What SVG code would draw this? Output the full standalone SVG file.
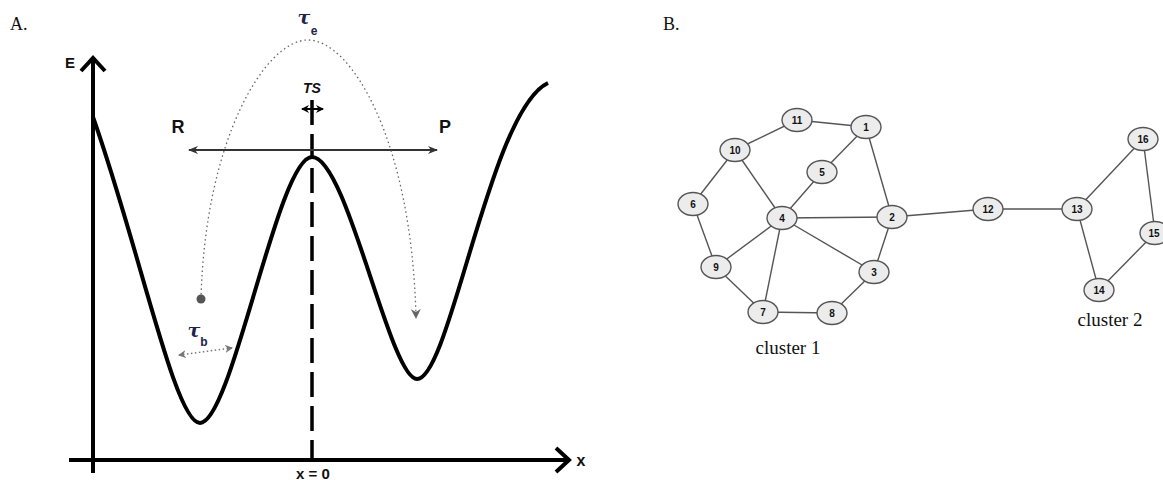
<svg xmlns="http://www.w3.org/2000/svg" width="1163" height="480" viewBox="0 0 1163 480">
<style>
.serif{font-family:"Liberation Serif","Times New Roman",serif;fill:#111}
.lbl{font-family:"Liberation Sans",Arial,sans-serif;font-weight:bold;fill:#111;text-anchor:middle}
.tau{font-family:"DejaVu Serif","Liberation Serif",serif;font-style:italic;font-weight:bold;fill:#22224a;text-anchor:middle}
.sub{font-family:"Liberation Sans",Arial,sans-serif;font-weight:bold;fill:#22224a;text-anchor:middle}
.axis{stroke:#000;stroke-width:4;fill:none}
.curve{stroke:#000;stroke-width:4;fill:none;stroke-linejoin:round}
.dots{stroke:#666;stroke-width:1.3;fill:none;stroke-dasharray:1.5 3}
.edge{stroke:#555;stroke-width:1.4;fill:none}
.node ellipse{fill:#ececec;stroke:#555;stroke-width:1.4}
.node text{font-family:"Liberation Sans",Arial,sans-serif;font-weight:bold;font-size:10px;fill:#111;text-anchor:middle}
</style>
<defs>
<marker id="ah" markerUnits="userSpaceOnUse" markerWidth="10" markerHeight="8" refX="9" refY="4" orient="auto-start-reverse">
<path d="M0,0 L10,4 L0,8 L3,4 z" fill="#333"/>
</marker>
<marker id="ahg" markerUnits="userSpaceOnUse" markerWidth="10" markerHeight="10" refX="9" refY="5" orient="auto-start-reverse">
<path d="M0,0 L10,5 L0,10 L3,5 z" fill="#666"/>
</marker>
<marker id="ahs" markerUnits="userSpaceOnUse" markerWidth="8" markerHeight="8" refX="7" refY="4" orient="auto-start-reverse">
<path d="M0,0 L8,4 L0,8 L2.5,4 z" fill="#777"/>
</marker>
<marker id="ahk" markerUnits="userSpaceOnUse" markerWidth="8" markerHeight="8" refX="7" refY="4" orient="auto-start-reverse">
<path d="M0,0 L8,4 L0,8 L2.5,4 z" fill="#000"/>
</marker>
</defs>

<g id="panelA">
<text class="serif" x="10" y="30" font-size="18">A.</text>
<line class="axis" x1="93" y1="58" x2="93" y2="473"/>
<polyline class="axis" points="81,71 93,58 105,71"/>
<line class="axis" x1="69" y1="460" x2="568" y2="460"/>
<polyline class="axis" points="556,448 569,460 556,472"/>
<text class="lbl" x="70" y="68" font-size="15">E</text>
<text class="lbl" x="581" y="466" font-size="16">x</text>
<text class="lbl" x="313" y="479" font-size="15">x = 0</text>
<line x1="312" y1="100" x2="312" y2="460" stroke="#000" stroke-width="3.5" stroke-dasharray="25 9"/>
<path class="curve" d="M93,117 C140,250 175,423 200,423 C232,423 278,157 312,157 C347,157 390,379 417,379 C450,379 490,110 548,83"/>
<line x1="189" y1="150" x2="437" y2="150" stroke="#333" stroke-width="2" marker-start="url(#ah)" marker-end="url(#ah)"/>
<text class="lbl" x="178" y="133" font-size="18">R</text>
<text class="lbl" x="445" y="133" font-size="18">P</text>
<line x1="302" y1="109" x2="323" y2="109" stroke="#000" stroke-width="2" marker-start="url(#ahk)" marker-end="url(#ahk)"/>
<text class="lbl" x="312" y="93" font-size="14" font-style="italic">TS</text>
<path class="dots" d="M201,299 C205,140 265,40 308,40 C351,40 412,140 416,318" marker-end="url(#ahg)"/>
<circle cx="201" cy="299" r="4.5" fill="#555"/>
<text class="tau" x="304" y="24" font-size="19">τ</text>
<text class="sub" x="314" y="35" font-size="12">e</text>
<line x1="179" y1="355" x2="232" y2="348" stroke="#777" stroke-width="1.5" stroke-dasharray="1.5 2.5" marker-start="url(#ahs)" marker-end="url(#ahs)"/>
<text class="tau" x="194" y="337" font-size="19">τ</text>
<text class="sub" x="204" y="346" font-size="12">b</text>
</g>

<g id="panelB">
<text class="serif" x="663" y="30" font-size="18">B.</text>
<g id="connectors">
<line class="edge" x1="797" y1="120" x2="735" y2="150"/>
<line class="edge" x1="797" y1="120" x2="866" y2="127"/>
<line class="edge" x1="866" y1="127" x2="822" y2="172"/>
<line class="edge" x1="866" y1="127" x2="892" y2="217"/>
<line class="edge" x1="735" y1="150" x2="693" y2="204"/>
<line class="edge" x1="735" y1="150" x2="782" y2="218"/>
<line class="edge" x1="822" y1="172" x2="782" y2="218"/>
<line class="edge" x1="782" y1="218" x2="892" y2="217"/>
<line class="edge" x1="693" y1="204" x2="716" y2="267"/>
<line class="edge" x1="716" y1="267" x2="782" y2="218"/>
<line class="edge" x1="782" y1="218" x2="763" y2="312"/>
<line class="edge" x1="782" y1="218" x2="874" y2="272"/>
<line class="edge" x1="892" y1="217" x2="874" y2="272"/>
<line class="edge" x1="716" y1="267" x2="763" y2="312"/>
<line class="edge" x1="763" y1="312" x2="832" y2="313"/>
<line class="edge" x1="832" y1="313" x2="874" y2="272"/>
<line class="edge" x1="892" y1="217" x2="988" y2="209"/>
<line class="edge" x1="988" y1="209" x2="1077" y2="209"/>
<line class="edge" x1="1077" y1="209" x2="1143" y2="139"/>
<line class="edge" x1="1143" y1="139" x2="1155" y2="233"/>
<line class="edge" x1="1077" y1="209" x2="1099" y2="290"/>
<line class="edge" x1="1099" y1="290" x2="1155" y2="233"/>
</g>
<g id="n1" class="node"><ellipse cx="866" cy="127" rx="15" ry="11.5"/><text x="866" y="131">1</text></g>
<g id="n2" class="node"><ellipse cx="892" cy="217" rx="15" ry="11.5"/><text x="892" y="221">2</text></g>
<g id="n3" class="node"><ellipse cx="874" cy="272" rx="15" ry="11.5"/><text x="874" y="276">3</text></g>
<g id="n4" class="node"><ellipse cx="782" cy="218" rx="15" ry="11.5"/><text x="782" y="222">4</text></g>
<g id="n5" class="node"><ellipse cx="822" cy="172" rx="15" ry="11.5"/><text x="822" y="176">5</text></g>
<g id="n6" class="node"><ellipse cx="693" cy="204" rx="15" ry="11.5"/><text x="693" y="208">6</text></g>
<g id="n7" class="node"><ellipse cx="763" cy="312" rx="15" ry="11.5"/><text x="763" y="316">7</text></g>
<g id="n8" class="node"><ellipse cx="832" cy="313" rx="15" ry="11.5"/><text x="832" y="317">8</text></g>
<g id="n9" class="node"><ellipse cx="716" cy="267" rx="15" ry="11.5"/><text x="716" y="271">9</text></g>
<g id="n10" class="node"><ellipse cx="735" cy="150" rx="15" ry="11.5"/><text x="735" y="154">10</text></g>
<g id="n11" class="node"><ellipse cx="797" cy="120" rx="15" ry="11.5"/><text x="797" y="124">11</text></g>
<g id="n12" class="node"><ellipse cx="988" cy="209" rx="15" ry="11.5"/><text x="988" y="213">12</text></g>
<g id="n13" class="node"><ellipse cx="1077" cy="209" rx="15" ry="11.5"/><text x="1077" y="213">13</text></g>
<g id="n14" class="node"><ellipse cx="1099" cy="290" rx="15" ry="11.5"/><text x="1099" y="294">14</text></g>
<g id="n15" class="node"><ellipse cx="1155" cy="233" rx="15" ry="11.5"/><text x="1154" y="237">15</text></g>
<g id="n16" class="node"><ellipse cx="1143" cy="139" rx="15" ry="11.5"/><text x="1143" y="143">16</text></g>
<text class="serif" x="788" y="354" font-size="19" text-anchor="middle">cluster 1</text>
<text class="serif" x="1110" y="326" font-size="19" text-anchor="middle">cluster 2</text>
</g>
</svg>
